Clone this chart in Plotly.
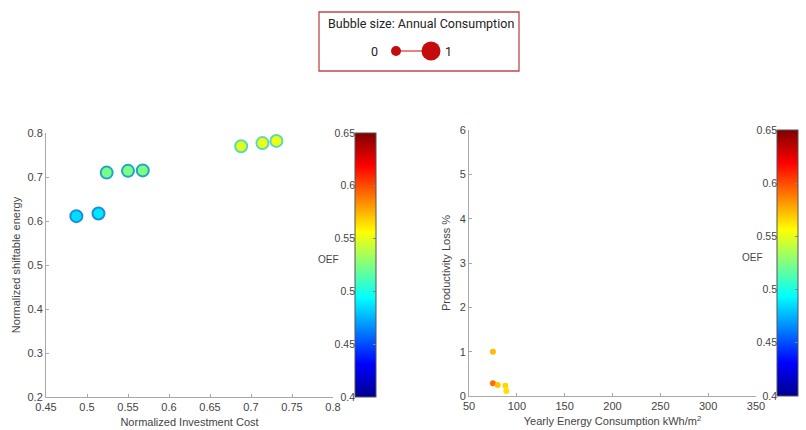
import plotly.graph_objects as go

W, H = 806, 430

# ---------------- data ----------------
# Left panel
inv_cost = [0.487, 0.514, 0.524, 0.550, 0.568, 0.688, 0.714, 0.731]
shift_energy = [0.611, 0.617, 0.710, 0.714, 0.715, 0.770, 0.777, 0.782]
oef_left = [0.486, 0.488, 0.523, 0.524, 0.524, 0.549, 0.551, 0.552]

# Right panel
energy_cons = [75, 75, 80, 88, 89]
prod_loss = [1.0, 0.29, 0.25, 0.23, 0.11]
oef_right = [0.573, 0.592, 0.570, 0.566, 0.564]

# tick labels
left_x_ticks = [0.45, 0.5, 0.55, 0.6, 0.65, 0.7, 0.75, 0.8]
left_x_text = ["0.45", "0.5", "0.55", "0.6", "0.65", "0.7", "0.75", "0.8"]
left_y_ticks = [0.2, 0.3, 0.4, 0.5, 0.6, 0.7, 0.8]
left_y_text = ["0.2", "0.3", "0.4", "0.5", "0.6", "0.7", "0.8"]
right_x_ticks = [50, 100, 150, 200, 250, 300, 350]
right_x_text = ["50", "100", "150", "200", "250", "300", "350"]
right_y_ticks = [0, 1, 2, 3, 4, 5, 6]
right_y_text = ["0", "1", "2", "3", "4", "5", "6"]
cb_ticks = [0.4, 0.45, 0.5, 0.55, 0.6, 0.65]
cb_text = ["0.4", "0.45", "0.5", "0.55", "0.6", "0.65"]

# ---------------- style ----------------
jet = [[0.0, "#000090"], [0.125, "#0000ff"], [0.375, "#00ffff"],
       [0.625, "#ffff00"], [0.875, "#ff0000"], [1.0, "#800000"]]
edge_left = ["#1c8ce0", "#1c8ce0", "#22a4c8", "#22a4c8", "#22a4c8",
             "#5fd8b8", "#5fd8b8", "#5fd8b8"]
axis_col = "#a8a8a8"
txt_col = "#444444"
font_main = "Liberation Sans, Arial, sans-serif"


def px_x(p):
    return p / W


def px_y(p):
    return 1 - p / H


lx = [px_x(46), px_x(333)]
ly = [px_y(397), px_y(133)]
rx = [px_x(469), px_x(756)]
ry = [px_y(396), px_y(130)]


def cbar(xpix, dom):
    return dict(x=px_x(xpix), xanchor="left", xpad=0, ypad=0,
                y=(dom[0] + dom[1]) / 2, yanchor="middle",
                len=dom[1] - dom[0], lenmode="fraction",
                thickness=21, thicknessmode="pixels",
                outlinewidth=1, outlinecolor="#555555",
                showticklabels=False, tickvals=cb_ticks,
                ticks="inside", ticklen=3, tickcolor="#888888")


fig = go.Figure()
fig.add_trace(go.Scatter(
    x=inv_cost, y=shift_energy, mode="markers", xaxis="x", yaxis="y",
    marker=dict(size=12, color=oef_left, colorscale=jet, cmin=0.4, cmax=0.65,
                line=dict(color=edge_left, width=2), colorbar=cbar(355, ly)),
    showlegend=False, hoverinfo="x+y"))
fig.add_trace(go.Scatter(
    x=energy_cons, y=prod_loss, mode="markers", xaxis="x2", yaxis="y2",
    marker=dict(size=6, color=oef_right, colorscale=jet, cmin=0.4, cmax=0.65,
                line=dict(width=0), colorbar=cbar(777, ry)),
    showlegend=False, hoverinfo="x+y"))
# empty traces that only register the colour-scale label axes
fig.add_trace(go.Scatter(x=[], y=[], xaxis="x", yaxis="y3", showlegend=False,
                         hoverinfo="skip"))
fig.add_trace(go.Scatter(x=[], y=[], xaxis="x2", yaxis="y4", showlegend=False,
                         hoverinfo="skip"))

common = dict(showline=True, linecolor=axis_col, linewidth=1, ticks="inside",
              ticklen=3, tickcolor=axis_col, showgrid=False, zeroline=False,
              tickfont=dict(size=11, color=txt_col, family=font_main),
              automargin=False, tickmode="array")
title_font = dict(size=11, color=txt_col, family=font_main)
cb_axis = dict(anchor="free", side="left", range=[0.4, 0.65], tickmode="array",
               tickvals=cb_ticks, ticktext=cb_text, showgrid=False, zeroline=False,
               showline=False, ticks="", ticklen=0,
               tickfont=dict(size=10.5, color=txt_col, family=font_main),
               automargin=False, fixedrange=True)

fig.update_layout(
    width=W, height=H, margin=dict(l=0, r=0, t=0, b=0),
    paper_bgcolor="white", plot_bgcolor="white",
    font=dict(family=font_main, color=txt_col),
    xaxis=dict(domain=lx, anchor="y", range=[0.45, 0.8], tickvals=left_x_ticks,
               ticktext=left_x_text,
               title=dict(text="Normalized Investment Cost", font=title_font, standoff=6),
               **common),
    yaxis=dict(domain=ly, anchor="x", range=[0.2, 0.8], tickvals=left_y_ticks,
               ticktext=left_y_text,
               title=dict(text="Normalized shiftable energy", font=title_font, standoff=4),
               **common),
    xaxis2=dict(domain=rx, anchor="y2", range=[50, 350], tickvals=right_x_ticks,
                ticktext=right_x_text,
                title=dict(text="Yearly Energy Consumption kWh/m<sup>2</sup>",
                           font=title_font, standoff=6),
                **common),
    yaxis2=dict(domain=ry, anchor="x2", range=[0, 6], tickvals=right_y_ticks,
                ticktext=right_y_text,
                title=dict(text="Productivity Loss %", font=title_font, standoff=6),
                **common),
    yaxis3=dict(overlaying="y", position=px_x(355), **cb_axis),
    yaxis4=dict(overlaying="y2", position=px_x(777), **cb_axis),
)

# "OEF" colorbar labels
for xp, yp in [(328, 259), (752, 257)]:
    fig.add_annotation(text="OEF", x=px_x(xp), y=px_y(yp), xref="paper", yref="paper",
                       xanchor="center", yanchor="middle", showarrow=False,
                       font=dict(size=10, color=txt_col, family=font_main))

# bubble size key
red = "#c40c0c"
key_font = dict(size=12.5, color="#222222", family="Roboto")
fig.add_shape(type="rect", xref="paper", yref="paper",
              x0=px_x(319), x1=px_x(519), y0=px_y(71), y1=px_y(12),
              line=dict(color="#c04848", width=1.3), fillcolor="rgba(0,0,0,0)")
fig.add_annotation(text="Bubble size: Annual Consumption", x=px_x(421), y=px_y(23),
                   xref="paper", yref="paper", xanchor="center", yanchor="middle",
                   showarrow=False, font=key_font)
fig.add_shape(type="line", xref="paper", yref="paper",
              x0=px_x(400), x1=px_x(422), y0=px_y(51), y1=px_y(51),
              line=dict(color=red, width=1))
for cx, r in [(396, 5), (431, 9.5)]:
    fig.add_shape(type="circle", xref="paper", yref="paper",
                  xsizemode="pixel", ysizemode="pixel",
                  xanchor=px_x(cx), yanchor=px_y(51),
                  x0=-r, x1=r, y0=-r, y1=r,
                  line=dict(color=red, width=0), fillcolor=red)
for t, xp in [("0", 374), ("1", 448)]:
    fig.add_annotation(text=t, x=px_x(xp), y=px_y(51), xref="paper", yref="paper",
                       xanchor="center", yanchor="middle", showarrow=False,
                       font=key_font)

fig.write_html("out.html", config={"displayModeBar": False},
               post_script="document.body.style.margin='0';document.body.style.overflow='hidden';")
